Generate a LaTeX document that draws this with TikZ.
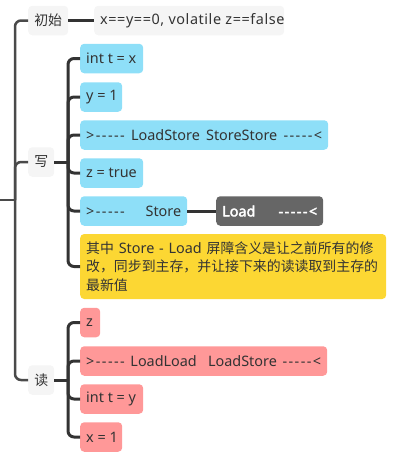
\documentclass[tikz,border=0pt]{standalone}
\usepackage{fontspec}
\setmainfont{Noto Sans}[Ligatures=TeXOff]
\newfontfamily\boldlat{Noto Sans}[Ligatures=TeXOff, FakeBold=2.5]
\newfontfamily\cjkfont{Noto Sans CJK SC}
\newcommand\zh[1]{{\fontsize{13.9}{18.5}\selectfont\cjkfont #1}}
\newcommand\dsh[1]{{\addfontfeature{LetterSpace=10}#1}}
\newcommand\wide[1]{{\addfontfeature{LetterSpace=4}#1}}
\newcommand\lbx[2]{\makebox[#1pt][l]{#2}}
\newcommand\sbx[2]{\makebox[#1pt][s]{#2}}
\newcommand\cbx[2]{\makebox[#1pt][c]{#2}}
\definecolor{txt}{HTML}{333333}
\definecolor{ln}{HTML}{333333}
\definecolor{lnroot}{HTML}{4A4A4A}
\definecolor{gr}{HTML}{F5F5F5}
\definecolor{bl}{HTML}{8EDFF8}
\definecolor{rd}{HTML}{FF9898}
\definecolor{ye}{HTML}{FCD733}
\definecolor{dk}{HTML}{666666}
\tikzset{
  box/.style={rounded corners=4pt, inner xsep=6pt, inner ysep=0pt, minimum height=29.5pt,
    anchor=west, text=txt, font=\fontsize{14.4}{18.5}\selectfont},
  graybox/.style={box, fill=gr},
  bluebox/.style={box, fill=bl},
  redbox/.style={box, fill=rd},
  darkbox/.style={box, fill=dk, text=white, font=\fontsize{14.4}{18.5}\selectfont\boldlat},
  notebox/.style={box, fill=ye, inner ysep=4pt, minimum height=65pt, text width=294pt, align=left},
  link/.style={line width=3pt, draw=ln, rounded corners=6pt},
  rootlink/.style={line width=2.5pt, draw=lnroot, rounded corners=6pt},
}
\begin{document}
\begin{tikzpicture}[x=1pt,y=-1pt]
\useasboundingbox (0,0) rectangle (400,459);

% level 1
\node[graybox] (chu) at (28,20.5) {\cbx{28}{\zh{初始}}};
\node[graybox] (init) at (94,20.5) {\lbx{178}{\wide{x==y==0, volatile z==false}}};
\node[graybox] (xie) at (28,162) {\cbx{14}{\zh{写}}};
\node[graybox] (du) at (28,380) {\cbx{14}{\zh{读}}};

% write branch
\node[bluebox] (w1) at (80,58.5) {\lbx{51}{int t = x}};
\node[bluebox] (w2) at (80,97) {\lbx{30}{y = 1}};
\node[bluebox] (w3) at (80,135) {\sbx{236}{\dsh{>-----} LoadStore StoreStore \dsh{-----<}}};
\node[bluebox] (w4) at (80,173) {\lbx{51}{z = true}};
\node[bluebox] (w5) at (80,211) {\sbx{95}{\dsh{>-----} Store}\hspace{2pt}};
\node[darkbox] (load) at (216,211) {\sbx{95}{Load \dsh{-----<}}\hspace{2pt}};
\node[notebox] (note) at (80,266.5) {\zh{其中} Store - Load \zh{屏障含义是让之前所有的修}\\
\zh{改，同步到主存，并让接下来的读读取到主存的}\\
\zh{最新值}};

% read branch
\node[redbox] (r1) at (80,322.5) {\lbx{8}{z}};
\node[redbox] (r2) at (80,361) {\sbx{235}{\dsh{>-----} LoadLoad\ \ LoadStore \dsh{-----<}}};
\node[redbox] (r3) at (80,399) {\lbx{51}{int t = y}};
\node[redbox] (r4) at (80,437) {\lbx{30}{x = 1}};

% root connectors
\coordinate (root) at (0,200);
\coordinate (rj) at (15,200);
\draw[rootlink] (root) -- (rj);
\draw[rootlink] (chu.west) -| (rj);
\draw[rootlink] (xie.west) -| (rj);
\draw[rootlink] (du.west) -| (rj);

\draw[link] (chu.east) -- (init.west);

% write connectors
\coordinate (xj) at (68,162);
\draw[link] (xie.east) -- (xj);
\foreach \n in {w1,w2,w3,w4,w5,note} \draw[link] (xj) |- (\n.west);
\draw[link] (w5.east) -- (load.west);

% read connectors
\coordinate (dj) at (68,380);
\draw[link] (du.east) -- (dj);
\foreach \n in {r1,r2,r3,r4} \draw[link] (dj) |- (\n.west);
\end{tikzpicture}
\end{document}
